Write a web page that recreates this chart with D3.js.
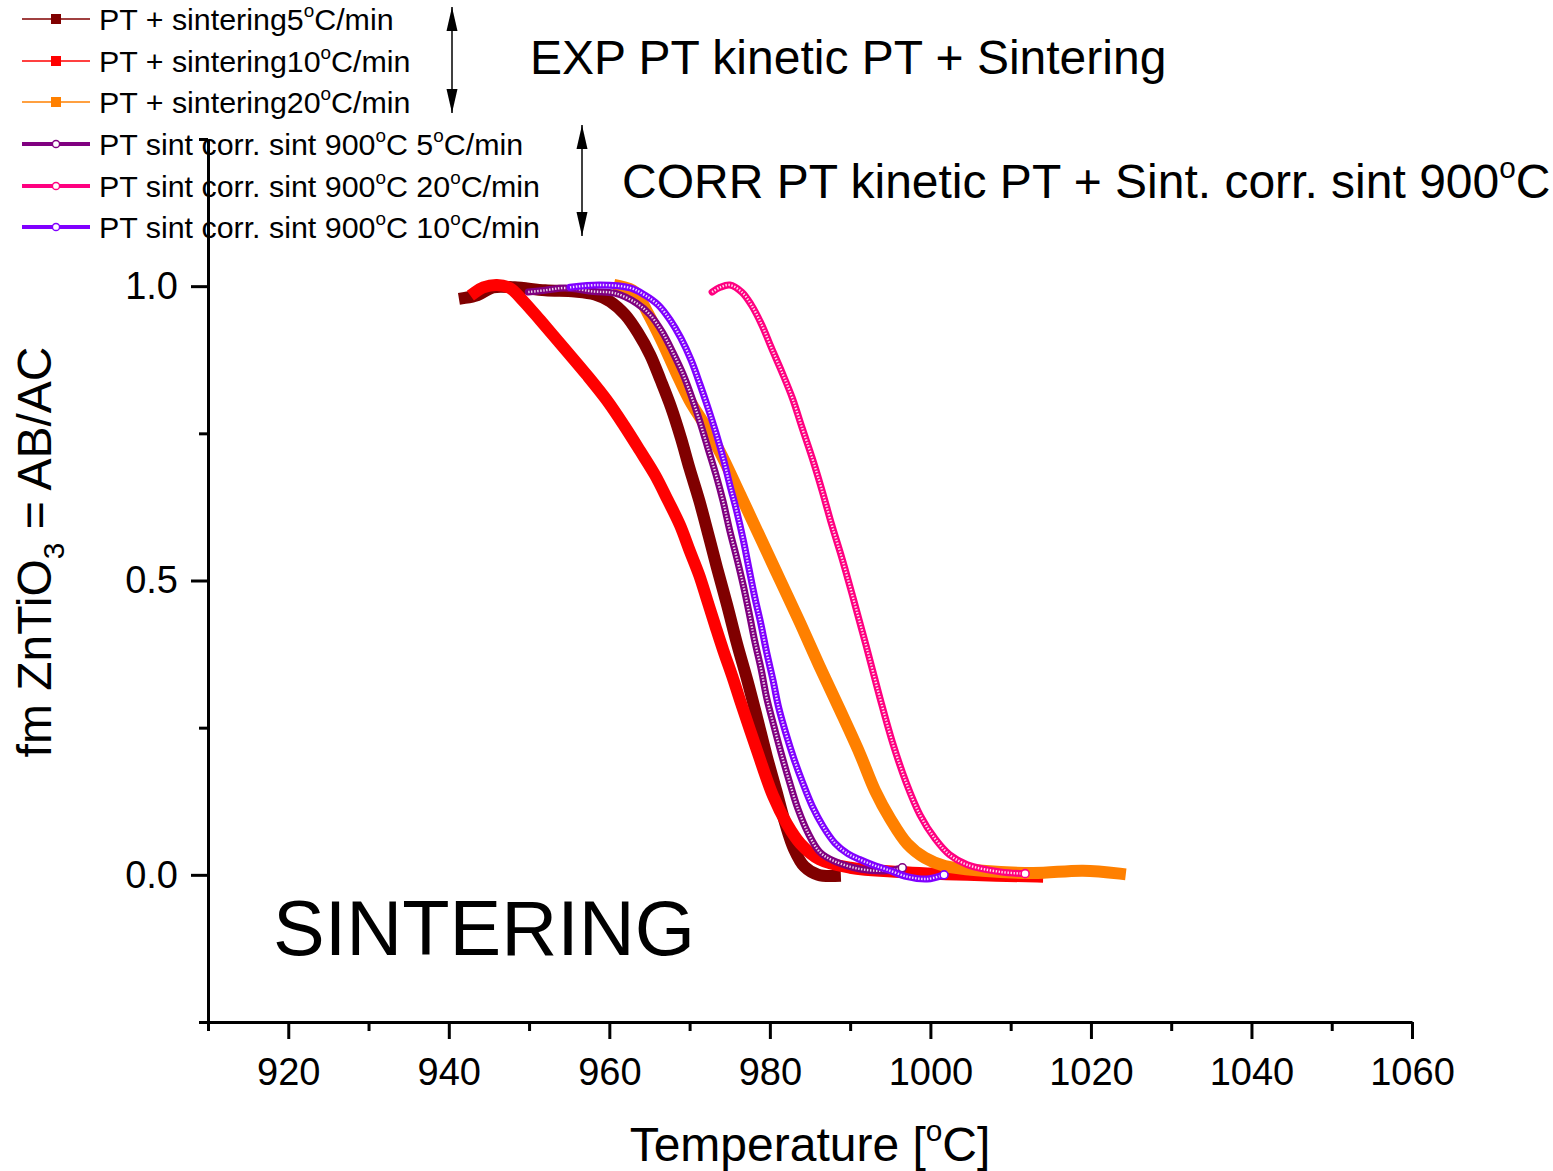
<!DOCTYPE html>
<html>
<head>
<meta charset="utf-8">
<script src="https://cdn.jsdelivr.net/npm/d3@7"></script>
<style>
  body { margin: 0; background: #fff; }
  text { font-family: "Liberation Sans", Arial, sans-serif; fill: #000; }
</style>
</head>
<body>
<svg id="chart" width="1553" height="1171"></svg>
<script>
// ---- data: [temperature °C, fraction] ----
const exp5 = [
  [942.0, 0.980], [943.6, 0.985], [945.5, 0.998], [948.2, 0.998], [952.0, 0.993],
  [955.7, 0.991], [958.2, 0.986], [960.1, 0.974], [962.0, 0.951], [963.6, 0.920],
  [965.1, 0.883], [966.4, 0.840], [967.7, 0.794], [968.9, 0.743], [970.0, 0.690],
  [971.2, 0.636], [972.3, 0.580], [973.4, 0.522], [974.7, 0.457], [975.9, 0.393],
  [977.2, 0.330], [978.4, 0.267], [979.6, 0.202], [980.8, 0.143], [981.9, 0.088],
  [983.0, 0.044], [984.3, 0.014], [986.0, 0.000], [988.1, -0.002]
];
const exp10 = [
  [943.3, 0.990], [944.3, 0.998], [946.0, 1.002], [947.6, 0.997], [949.2, 0.976],
  [951.4, 0.942], [954.6, 0.891], [957.2, 0.849], [959.7, 0.806], [961.8, 0.764],
  [963.8, 0.721], [965.7, 0.679], [967.3, 0.636], [968.8, 0.594], [970.0, 0.551],
  [971.2, 0.509], [972.2, 0.466], [973.2, 0.423], [974.2, 0.381], [975.3, 0.338],
  [976.3, 0.296], [978.4, 0.211], [980.4, 0.134], [982.1, 0.087], [983.8, 0.053],
  [986.2, 0.026], [990.0, 0.012], [996.2, 0.005], [1004.6, 0.000], [1013.3, -0.003]
];
const exp20 = [
  [961.3, 1.000], [963.2, 0.990], [964.8, 0.954], [966.6, 0.905], [968.3, 0.854],
  [970.0, 0.806], [971.9, 0.764], [973.8, 0.718], [976.3, 0.646], [978.8, 0.573],
  [981.3, 0.500], [983.8, 0.427], [986.2, 0.354], [988.7, 0.281], [991.2, 0.206],
  [993.1, 0.143], [995.0, 0.095], [997.1, 0.053], [999.3, 0.029], [1001.8, 0.015],
  [1006.5, 0.007], [1012.8, 0.003], [1019.0, 0.007], [1023.6, 0.002]
];
const corr5 = [
  [949.9, 0.990], [952.0, 0.993], [954.5, 0.997], [958.0, 0.991], [960.7, 0.988],
  [963.4, 0.971], [965.1, 0.951], [966.6, 0.922], [967.9, 0.888], [969.2, 0.850],
  [970.3, 0.810], [971.3, 0.769], [972.3, 0.724], [973.3, 0.679], [974.2, 0.633],
  [975.0, 0.585], [975.9, 0.537], [976.7, 0.491], [977.4, 0.446], [978.1, 0.398],
  [978.9, 0.350], [979.6, 0.301], [980.5, 0.253], [981.4, 0.207], [982.4, 0.160],
  [983.5, 0.112], [984.8, 0.070], [986.2, 0.039], [987.9, 0.024], [991.2, 0.010],
  [994.6, 0.007], [996.5, 0.012]
];
const corr20 = [
  [972.8, 0.990], [973.8, 0.998], [975.0, 1.002], [976.5, 0.990], [977.7, 0.968],
  [979.0, 0.934], [980.2, 0.895], [981.5, 0.854], [982.8, 0.810], [984.0, 0.760],
  [985.3, 0.707], [986.5, 0.653], [987.7, 0.595], [989.0, 0.537], [990.4, 0.469],
  [992.0, 0.389], [993.7, 0.301], [995.3, 0.224], [997.0, 0.156], [998.7, 0.102],
  [1000.6, 0.061], [1002.4, 0.034], [1004.6, 0.017], [1008.7, 0.005], [1011.8, 0.002]
];
const corr10 = [
  [955.1, 0.998], [958.8, 1.002], [962.6, 0.997], [964.4, 0.985], [966.1, 0.968],
  [967.6, 0.942], [968.9, 0.912], [970.2, 0.874], [971.3, 0.833], [972.3, 0.793],
  [973.3, 0.750], [974.2, 0.707], [975.0, 0.663], [975.9, 0.616], [976.7, 0.568],
  [977.4, 0.520], [978.1, 0.473], [978.9, 0.425], [979.6, 0.378], [980.4, 0.330],
  [981.1, 0.284], [982.0, 0.240], [983.0, 0.197], [984.1, 0.156], [985.3, 0.116],
  [986.6, 0.083], [988.1, 0.054], [989.7, 0.036], [991.2, 0.026], [992.8, 0.017],
  [994.6, 0.009], [997.1, -0.003], [999.6, -0.007], [1001.7, 0.000]
];

// ---- series, in drawing / legend order ----
const seriesLabels = [
  ["PT + sintering5", "C/min"],
  ["PT + sintering10", "C/min"],
  ["PT + sintering20", "C/min"],
  ["PT sint corr. sint 900", "C 5", "C/min"],
  ["PT sint corr. sint 900", "C 20", "C/min"],
  ["PT sint corr. sint 900", "C 10", "C/min"]
];
const seriesData = [exp5, exp10, exp20, corr5, corr20, corr10];
const seriesColors = ["#800000", "#ff0000", "#ff8000", "#800080", "#ff0080", "#8000ff"];
const seriesKinds = ["exp", "exp", "exp", "corr", "corr", "corr"];

// ---- axis ticks ----
const xMajorTicks = [920, 940, 960, 980, 1000, 1020, 1040, 1060];
const xMinorTicks = [910, 930, 950, 970, 990, 1010, 1030, 1050];
const yMajorTicks = [0.0, 0.5, 1.0];
const yMinorTicks = [-0.25, 0.25, 0.75, 1.25];

const svg = d3.select("#chart");
const FONT = "Liberation Sans, Arial, sans-serif";

const x = d3.scaleLinear().domain([910, 1060]).range([208, 1412]);
const y = d3.scaleLinear().domain([-0.25, 1.25]).range([1022, 139]);

// text with superscript / subscript runs
function richText(sel, parts, fs) {
  let shift = 0;
  parts.forEach(p => {
    const t = sel.append("tspan").text(p.t);
    let target = 0, size = fs;
    if (p.sup) { target = -fs * 0.42; size = fs * 0.62; }
    if (p.sub) { target = fs * 0.28; size = fs * 0.62; }
    t.attr("dy", target - shift).attr("font-size", size);
    shift = target;
  });
}
function degreeParts(pieces) {
  const out = [];
  pieces.forEach((s, i) => {
    if (i > 0) out.push({ t: "o", sup: true });
    out.push({ t: s });
  });
  return out;
}

// ---- curves ----
const line = d3.line().x(d => x(d[0])).y(d => y(d[1])).curve(d3.curveCatmullRom.alpha(0.5));
const plot = svg.append("g");

seriesData.forEach((data, i) => {
  const c = seriesColors[i];
  if (seriesKinds[i] === "exp") {
    plot.append("path").attr("d", line(data))
      .attr("fill", "none").attr("stroke", c)
      .attr("stroke-width", 12).attr("stroke-linejoin", "round").attr("stroke-linecap", "square");
  } else {
    plot.append("path").attr("d", line(data))
      .attr("fill", "none").attr("stroke", c)
      .attr("stroke-width", 7).attr("stroke-linejoin", "round").attr("stroke-linecap", "round");
    // hollow-ring texture of the open circle markers
    plot.append("path").attr("d", line(data))
      .attr("fill", "none").attr("stroke", "#fff").attr("stroke-opacity", 0.85)
      .attr("stroke-width", 2.4).attr("stroke-dasharray", "1.4 1.6");
    const last = data[data.length - 1];
    plot.append("circle").attr("cx", x(last[0])).attr("cy", y(last[1])).attr("r", 4)
      .attr("fill", "#fff").attr("stroke", c).attr("stroke-width", 1.6);
  }
});

// ---- axes ----
svg.append("g").attr("transform", `translate(0,${y(-0.25)})`)
  .call(d3.axisBottom(x).tickValues(xMajorTicks).tickSize(17).tickSizeOuter(0).tickPadding(19)
    .tickFormat(d3.format("d")));
svg.append("g").attr("transform", `translate(0,${y(-0.25)})`)
  .call(d3.axisBottom(x).tickValues(xMinorTicks).tickSize(9).tickSizeOuter(0).tickFormat(""))
  .select(".domain").remove();
svg.append("g").attr("transform", `translate(${x(910)},0)`)
  .call(d3.axisLeft(y).tickValues(yMajorTicks).tickSize(17).tickSizeOuter(0).tickPadding(13)
    .tickFormat(d3.format(".1f")));
svg.append("g").attr("transform", `translate(${x(910)},0)`)
  .call(d3.axisLeft(y).tickValues(yMinorTicks).tickSize(9).tickSizeOuter(0).tickFormat(""))
  .select(".domain").remove();

svg.selectAll(".domain, .tick line").attr("stroke", "#000").attr("stroke-width", 3);
svg.selectAll(".tick text").attr("font-family", FONT).attr("font-size", 38).attr("fill", "#000");

// axis titles
const xt = svg.append("text").attr("x", 810).attr("y", 1161).attr("text-anchor", "middle")
  .attr("font-size", 48);
richText(xt, [{ t: "Temperature [" }, { t: "o", sup: true }, { t: "C]" }], 48);

const yt = svg.append("text").attr("transform", "translate(51,552) rotate(-90)")
  .attr("text-anchor", "middle").attr("font-size", 48);
richText(yt, [{ t: "fm ZnTiO" }, { t: "3", sub: true }, { t: " = AB/AC" }], 48);

// ---- legend ----
const legendRows = [19, 61, 102, 144, 186, 227];
seriesLabels.forEach((lab, i) => {
  const g = svg.append("g").attr("transform", `translate(0,${legendRows[i]})`);
  const c = seriesColors[i];
  if (seriesKinds[i] === "exp") {
    g.append("line").attr("x1", 22).attr("x2", 90).attr("stroke", c).attr("stroke-width", 1.5);
    g.append("rect").attr("x", 51).attr("y", -5).attr("width", 10).attr("height", 10).attr("fill", c);
  } else {
    g.append("line").attr("x1", 22).attr("x2", 90).attr("stroke", c).attr("stroke-width", 4);
    g.append("circle").attr("cx", 56).attr("r", 3.6).attr("fill", "#fff")
      .attr("stroke", c).attr("stroke-width", 1.5);
  }
  const t = g.append("text").attr("x", 99).attr("y", 10.5).attr("font-size", 30.4);
  richText(t, degreeParts(lab), 30.4);
});

// ---- annotations ----
const defs = svg.append("defs");
defs.append("marker").attr("id", "head").attr("viewBox", "0 0 24 12")
  .attr("refX", 24).attr("refY", 6).attr("markerWidth", 24).attr("markerHeight", 12)
  .attr("markerUnits", "userSpaceOnUse").attr("orient", "auto-start-reverse")
  .append("path").attr("d", "M0,0.5 L24,6 L0,11.5 Z").attr("fill", "#000");

function dblArrow(xp, y1, y2) {
  svg.append("line").attr("x1", xp).attr("x2", xp).attr("y1", y1).attr("y2", y2)
    .attr("stroke", "#000").attr("stroke-width", 1.5)
    .attr("marker-start", "url(#head)").attr("marker-end", "url(#head)");
}
dblArrow(452, 7, 113);
dblArrow(582, 125, 236);

const a1 = svg.append("text").attr("x", 530).attr("y", 74).attr("font-size", 48);
richText(a1, [{ t: "EXP PT kinetic PT + Sintering" }], 48);
const a2 = svg.append("text").attr("x", 622).attr("y", 198).attr("font-size", 48);
richText(a2, degreeParts(["CORR PT kinetic PT + Sint. corr. sint 900", "C"]), 48);

svg.append("text").attr("x", 273).attr("y", 955).attr("font-size", 77.5).text("SINTERING");
</script>
</body>
</html>
